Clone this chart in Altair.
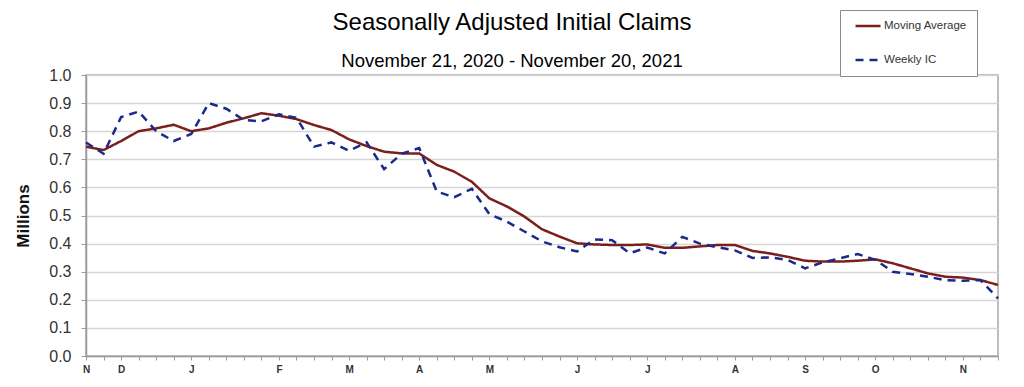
import json
import altair as alt
import pandas as pd

FONT = "Liberation Sans, Arial, sans-serif"

# Week index 0 = Nov 21, 2020 ... 52 = Nov 20, 2021
weekly_ic = [0.76, 0.72, 0.85, 0.87, 0.80, 0.765, 0.79, 0.90, 0.88, 0.84,
             0.835, 0.86, 0.848, 0.745, 0.76, 0.73, 0.76, 0.665, 0.72, 0.74,
             0.585, 0.565, 0.595, 0.505, 0.478, 0.443, 0.408, 0.387, 0.372, 0.415,
             0.412, 0.366, 0.386, 0.365, 0.424, 0.40, 0.387, 0.376, 0.349, 0.351,
             0.342, 0.312, 0.333, 0.348, 0.363, 0.342, 0.30, 0.292, 0.282, 0.27,
             0.268, 0.27, 0.205]
moving_avg = [0.745, 0.733, 0.765, 0.80, 0.81, 0.823, 0.80, 0.81, 0.83, 0.846,
              0.864, 0.855, 0.843, 0.822, 0.804, 0.771, 0.747, 0.727, 0.721, 0.721,
              0.68, 0.656, 0.62, 0.561, 0.532, 0.496, 0.451, 0.425, 0.401, 0.397,
              0.395, 0.395, 0.397, 0.385, 0.385, 0.39, 0.395, 0.395, 0.374, 0.365,
              0.353, 0.339, 0.336, 0.336, 0.339, 0.344, 0.33, 0.312, 0.294, 0.282,
              0.279, 0.27, 0.253]

month_labels = ["N", "D", "J", "F", "M", "A", "M", "J", "J", "A", "S", "O", "N"]
month_weeks = [0, 2, 6, 11, 15, 19, 23, 28, 32, 37, 41, 45, 50]
y_ticks = [0.0, 0.1, 0.2, 0.3, 0.4, 0.5, 0.6, 0.7, 0.8, 0.9, 1.0]

series_names = ["Moving Average", "Weekly IC"]
series_colors = ["#7a1f1c", "#1b2a8a"]

n = len(weekly_ic)
rows = []
for i, v in enumerate(moving_avg):
    rows.append({"week": i, "value": v, "series": "Moving Average"})
for i, v in enumerate(weekly_ic):
    rows.append({"week": i, "value": v, "series": "Weekly IC"})
df = pd.DataFrame(rows)

tick_text = [""] * n
for w, lab in zip(month_weeks, month_labels):
    tick_text[w] = lab
label_expr = json.dumps(tick_text) + "[datum.value]"


def make_legend():
    return alt.Legend(title=None, orient="none", legendX=754, legendY=-65,
                      direction="vertical", symbolType="stroke",
                      symbolSize=625, symbolStrokeWidth=2.5, symbolOffset=4,
                      clipHeight=12,
                      labelFont=FONT, labelFontSize=11.5, labelColor="#333333",
                      labelOffset=2, rowPadding=22, padding=10,
                      strokeColor="#8a8a8a", fillColor="white",
                      labelLimit=200)


chart = alt.Chart(df).mark_line(strokeWidth=2.5).encode(
    x=alt.X("week:Q",
            scale=alt.Scale(domain=[0, n - 1], nice=False, zero=False),
            axis=alt.Axis(title=None, values=list(range(n)), labelExpr=label_expr,
                          grid=False, tickSize=4, tickColor="#9a9a9a", domainColor="#9a9a9a",
                          domainWidth=1.5, labelFont=FONT, labelFontSize=10,
                          labelFontWeight="bold", labelColor="#333333", labelPadding=4,
                          labelOverlap=False, labelFlush=False)),
    y=alt.Y("value:Q",
            scale=alt.Scale(domain=[0, 1.0], nice=False),
            axis=alt.Axis(title="Millions", values=y_ticks, format=".1f",
                          grid=True, gridColor="#d6d6d6", gridWidth=1.6,
                          tickSize=5, tickColor="#9a9a9a", domainColor="#9a9a9a",
                          domainWidth=1.5, labelFont=FONT, labelFontSize=16,
                          labelColor="#333333", labelPadding=10,
                          titleFont=FONT, titleFontSize=17, titleFontWeight="bold",
                          titleColor="#111111", titlePadding=16)),
    color=alt.Color("series:N",
                    scale=alt.Scale(domain=series_names, range=series_colors),
                    legend=make_legend()),
    strokeDash=alt.StrokeDash("series:N",
                              scale=alt.Scale(domain=series_names, range=[[1, 0], [8, 6]]),
                              legend=make_legend()),
    order=alt.Order("week:Q"),
).properties(
    width=912,
    height=281,
    autosize=alt.AutoSizeParams(type="none"),
    padding={"left": 78, "top": 67, "right": 18, "bottom": 22},
    title=alt.TitleParams(
        text="Seasonally Adjusted Initial Claims",
        subtitle="November 21, 2020 - November 20, 2021",
        anchor="middle", frame="group", dx=-30, offset=-61,
        font=FONT, fontSize=24, fontWeight="normal", color="#000000",
        subtitleFont=FONT, subtitleFontSize=18.5, subtitleColor="#000000",
        subtitlePadding=17,
    ),
).configure_view(
    stroke="#a8a8a8", strokeWidth=1.5
)

chart.save("out.html", embed_options={"renderer": "svg", "actions": False})
